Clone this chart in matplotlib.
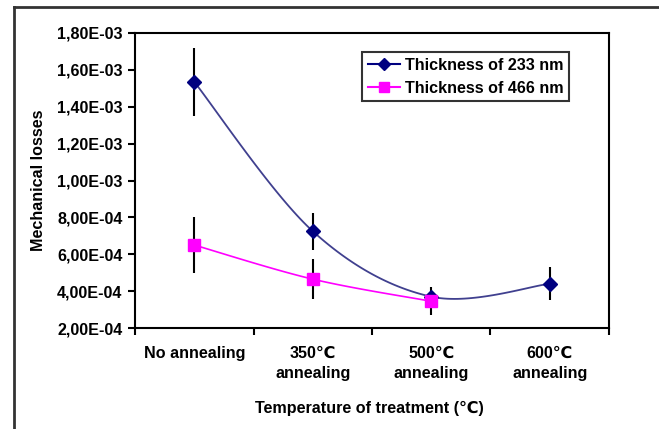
import numpy as np
import matplotlib
matplotlib.use("Agg")
import matplotlib.pyplot as plt
from matplotlib.lines import Line2D
from matplotlib.ticker import FixedLocator, FuncFormatter

plt.rcParams['font.family'] = ['Liberation Sans', 'DejaVu Sans']

# data
categories = ["No annealing", "350\u2103\nannealing", "500\u2103\nannealing", "600\u2103\nannealing"]
loss_233 = [1.535e-3, 7.25e-4, 3.70e-4, 4.40e-4]
err_233 = [1.85e-4, 1.00e-4, 0.0, 9.0e-5]
loss_466 = [6.50e-4, 4.65e-4, 3.45e-4]
err_466 = [1.50e-4, 1.10e-4, 7.5e-5]
yticks = [2e-4, 4e-4, 6e-4, 8e-4, 1e-3, 1.2e-3, 1.4e-3, 1.6e-3, 1.8e-3]

FS = 11.6


def smooth(x, y, xs=118.5, ys=295 / 1.6e-3, n=40):
    # excel-like smoothed line (bezier with catmull-rom control points)
    P = np.column_stack([np.asarray(x, float) * xs, np.asarray(y, float) * ys])
    out = [P[0]]
    t = np.linspace(0, 1, n)[1:, None]
    for i in range(len(P) - 1):
        p0 = P[i - 1] if i > 0 else P[i]
        p3 = P[i + 2] if i + 2 < len(P) else P[i + 1]
        c1 = P[i] + (P[i + 1] - p0) / 6
        c2 = P[i + 1] - (p3 - P[i]) / 6
        seg = ((1 - t) ** 3 * P[i] + 3 * (1 - t) ** 2 * t * c1
               + 3 * (1 - t) * t ** 2 * c2 + t ** 3 * P[i + 1])
        out.extend(seg)
    out = np.array(out)
    return out[:, 0] / xs, out[:, 1] / ys


fig = plt.figure(figsize=(6.59, 4.29), dpi=100)
ax = fig.add_axes([0.2049, 0.2354, 0.7192, 0.6877])

x1 = np.arange(len(loss_233))
x2 = np.arange(len(loss_466))

ax.errorbar(x1, loss_233, yerr=err_233, fmt='none', ecolor='black', elinewidth=1.5, zorder=2)
ax.errorbar(x2, loss_466, yerr=err_466, fmt='none', ecolor='black', elinewidth=1.5, zorder=2)

sx, sy = smooth(x1, loss_233)
ax.plot(sx, sy, color='#40408f', lw=1.3, zorder=3)
ax.plot(x1, loss_233, ls='none', marker='D', ms=7, color='#000080', zorder=4)
sx, sy = smooth(x2, loss_466)
ax.plot(sx, sy, color='#ff00ff', lw=1.2, zorder=3)
ax.plot(x2, loss_466, ls='none', marker='s', ms=8.5, color='#ff00ff', zorder=4)

ax.set_xlim(-0.5, 3.5)
ax.set_ylim(2e-4, 1.8e-3)
ax.yaxis.set_major_locator(FixedLocator(yticks))
ax.yaxis.set_major_formatter(FuncFormatter(lambda v, p: ("%.2E" % v).replace('.', ',')))
ax.set_xticks(np.arange(-0.5, 4, 1.0))
ax.set_xticklabels([])
ax.tick_params(axis='both', direction='out', length=5, width=1.5, labelsize=FS, pad=4)
for lab in ax.get_yticklabels():
    lab.set_fontweight('bold')
for i, c in enumerate(categories):
    ax.text(i, -0.06, c, transform=ax.get_xaxis_transform(), ha='center', va='top',
            fontsize=FS, fontweight='bold', linespacing=1.42)
for s in ax.spines.values():
    s.set_linewidth(1.5)

ax.set_ylabel("Mechanical losses", fontsize=FS, fontweight='bold')
ax.yaxis.set_label_coords(-0.188, 0.5)
fig.text(0.56, 0.049, "Temperature of treatment (\u2103)", ha='center', va='center',
         fontsize=FS, fontweight='bold')

h1 = Line2D([], [], color='#000080', marker='D', ms=6)
h2 = Line2D([], [], color='#ff00ff', marker='s', ms=7)
leg = ax.legend([h1, h2], ["Thickness of 233 nm", "Thickness of 466 nm"],
                loc='upper left', bbox_to_anchor=(0.479, 0.936), frameon=True, fancybox=False,
                edgecolor='black', handlelength=2.0, handletextpad=0.3, borderpad=0.35,
                labelspacing=0.5, borderaxespad=0, prop={'weight': 'bold', 'size': FS})
leg.get_frame().set_linewidth(1.5)

# outer chart frame
fig.add_artist(Line2D([0.0205, 0.0205], [0.0, 0.984], color='#333333', lw=2, transform=fig.transFigure))
fig.add_artist(Line2D([0.0205, 1.0], [0.984, 0.984], color='#333333', lw=2, transform=fig.transFigure))

fig.savefig("out.png", dpi=100)
